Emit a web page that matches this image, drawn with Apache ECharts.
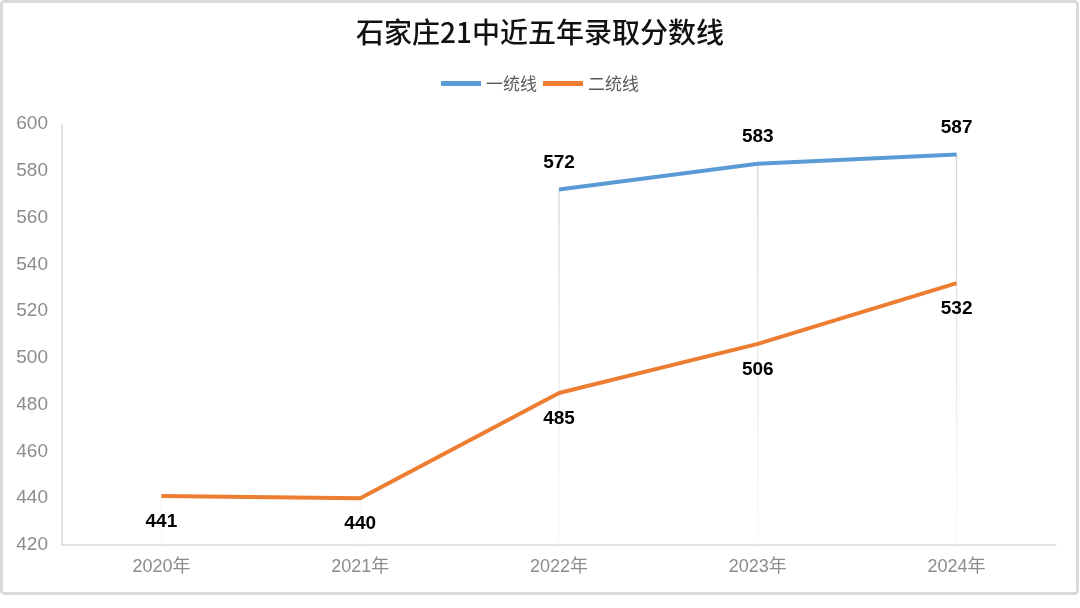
<!DOCTYPE html>
<html><head><meta charset="utf-8">
<script src="https://cdn.jsdelivr.net/npm/echarts@6/dist/echarts.min.js"></script>
<style>html,body{margin:0;padding:0;background:#fff}#c{width:1080px;height:608px}</style>
</head><body><div id="c"></div>
<script>
const categories = ['2020年','2021年','2022年','2023年','2024年'];
const line1 = [null, null, 572, 583, 587];
const line2 = [441, 440, 485, 506, 532];
const yTicks = {min: 420, max: 600, interval: 20};
const dropTops = categories.map((_, i) => Math.max(line1[i] == null ? -Infinity : line1[i], line2[i]));

const font = '"Liberation Sans", "Noto Sans CJK SC", sans-serif';
const cjk = '"Noto Sans CJK SC", "Noto Sans", sans-serif';
const chart = echarts.init(document.getElementById('c'));
chart.setOption({
  animation: false,
  backgroundColor: '#fff',
  textStyle: {fontFamily: font},
  graphic: [{type: 'rect', shape: {x: 1.5, y: 1.5, width: 1076, height: 592, r: 3}, style: {fill: 'none', stroke: '#d9d9d9', lineWidth: 3}, silent: true, z: -1}],
  title: {text: '石家庄21中近五年录取分数线', left: 'center', top: 13,
    textStyle: {fontSize: 28, fontWeight: 500, color: '#111', fontFamily: cjk}},
  legend: {top: 70, left: 'center', itemWidth: 40, itemHeight: 5, itemGap: 6,
    textStyle: {fontSize: 17, color: '#595959', fontFamily: cjk},
    data: [{name: '一统线', icon: 'rect'}, {name: '二统线', icon: 'rect'}]},
  grid: {left: 62, right: 24, top: 124, bottom: 63},
  xAxis: {type: 'category', data: categories, boundaryGap: true,
    axisLine: {lineStyle: {color: '#d9d9d9', width: 1.5}}, axisTick: {show: false},
    axisLabel: {fontSize: 18, color: '#8c8c8c', margin: 13, fontFamily: font}},
  yAxis: {type: 'value', min: yTicks.min, max: yTicks.max, interval: yTicks.interval,
    axisLine: {show: true, lineStyle: {color: '#d9d9d9', width: 1.5}}, axisTick: {show: false},
    splitLine: {show: false},
    axisLabel: {fontSize: 19, color: '#8c8c8c', margin: 14, fontFamily: font}},
  series: [
    {type: 'bar', name: 'drop', data: dropTops, barWidth: 1.2, silent: true, legendHoverLink: false,
      itemStyle: {color: new echarts.graphic.LinearGradient(0, 124, 0, 545, [
        {offset: 0, color: '#cfcfcf'}, {offset: 1, color: '#fafafa'}], true)}, z: 1},
    {type: 'line', name: '一统线', data: line1, symbol: 'circle', symbolSize: 0, showSymbol: true, connectNulls: false,
      lineStyle: {color: '#5B9BD5', width: 4}, itemStyle: {color: '#5B9BD5'},
      label: {show: true, position: 'top', distance: 17, fontSize: 19, fontWeight: 'bold', color: '#000', fontFamily: '"Liberation Sans", Arial, sans-serif'}, z: 3},
    {type: 'line', name: '二统线', data: line2, symbol: 'circle', symbolSize: 0, showSymbol: true,
      lineStyle: {color: '#ED7D31', width: 4}, itemStyle: {color: '#ED7D31'},
      label: {show: true, position: 'bottom', distance: 16, fontSize: 19, fontWeight: 'bold', color: '#000', fontFamily: '"Liberation Sans", Arial, sans-serif'}, z: 3}
  ]
});
</script></body></html>
